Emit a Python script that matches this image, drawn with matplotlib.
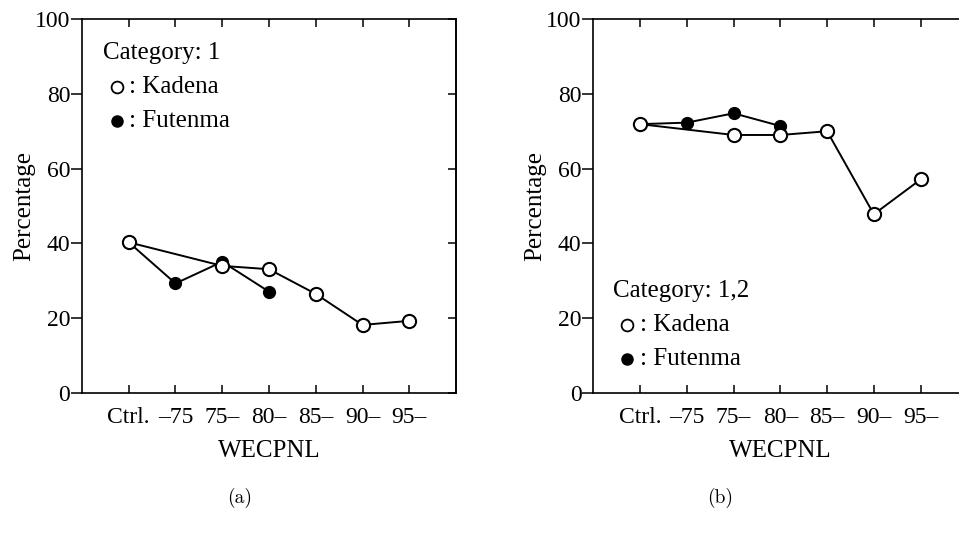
import matplotlib
matplotlib.use('Agg')
import matplotlib.pyplot as plt

plt.rcParams['font.family'] = ['Liberation Serif', 'DejaVu Serif']

categories = ['Ctrl.', '\u201375', '75\u2013', '80\u2013', '85\u2013', '90\u2013', '95\u2013']
xpos = [1, 2, 3, 4, 5, 6, 7]

# category 1
kadena_x_a = [1, 3, 4, 5, 6, 7]
kadena_a = [40.3, 34.0, 33.1, 26.5, 18.2, 19.3]
futenma_x_a = [1, 2, 3, 4]
futenma_a = [40.3, 29.3, 35.1, 27.1]

# category 1,2
kadena_x_b = [1, 3, 4, 5, 6, 7]
kadena_b = [71.9, 69.0, 69.0, 70.0, 47.8, 57.1]
futenma_x_b = [1, 2, 3, 4]
futenma_b = [71.9, 72.3, 74.8, 71.4]

yticks = [0, 20, 40, 60, 80, 100]
FS = 17      # tick labels
FS_T = 18    # axis labels and legend text

fig = plt.figure(figsize=(9.59, 5.54), dpi=100)
ax_a = fig.add_axes([0.0855, 0.2906, 0.39, 0.675])
ax_b = fig.add_axes([0.6187, 0.2906, 0.39, 0.675])


def draw_panel(ax, kx, ky, fx, fy, cat_text, leg):
    ax.plot(fx, fy, '-o', color='black', lw=1.4, ms=8.5, mfc='black',
            mec='black', zorder=3)
    ax.plot(kx, ky, '-o', color='black', lw=1.4, ms=9.5, mfc='white',
            mec='black', mew=1.5, zorder=4)
    ax.set_xlim(0, 8)
    ax.set_ylim(0, 100)
    ax.set_xticks(xpos)
    ax.set_xticklabels(categories, fontsize=FS)
    ax.set_yticks(yticks)
    ax.tick_params(axis='y', labelsize=FS, direction='out', length=8,
                   width=1.1, pad=0.5)
    ax.tick_params(axis='x', direction='in', length=6, width=1.1, top=True,
                   pad=10)
    # inward ticks on the right spine
    ax2 = ax.secondary_yaxis('right')
    ax2.set_yticks(yticks)
    ax2.tick_params(direction='in', length=6, width=1.1, labelright=False)
    ax2.spines['right'].set_linewidth(1.2)
    for s in ax.spines.values():
        s.set_linewidth(1.2)
    ax.set_ylabel('Percentage', fontsize=FS_T, labelpad=0)
    ax.set_xlabel('WECPNL', fontsize=FS_T, labelpad=9)

    # hand-drawn key
    lx, ly, mx, tx, dy = leg
    ax.text(lx, ly, cat_text, transform=ax.transAxes, fontsize=FS_T,
            va='center', ha='left')
    ax.plot([mx], [ly - dy], 'o', transform=ax.transAxes, ms=8.5, mfc='white',
            mec='black', mew=1.3, clip_on=False)
    ax.text(tx, ly - dy, ': Kadena', transform=ax.transAxes, fontsize=FS_T,
            va='center', ha='left')
    ax.plot([mx], [ly - 2 * dy], 'o', transform=ax.transAxes, ms=8,
            mfc='black', mec='black', clip_on=False)
    ax.text(tx, ly - 2 * dy, ': Futenma', transform=ax.transAxes, fontsize=FS_T,
            va='center', ha='left')


draw_panel(ax_a, kadena_x_a, kadena_a, futenma_x_a, futenma_a, 'Category: 1',
           (0.055, 0.909, 0.093, 0.125, 0.091))
draw_panel(ax_b, kadena_x_b, kadena_b, futenma_x_b, futenma_b, 'Category: 1,2',
           (0.0535, 0.273, 0.089, 0.126, 0.091))

fig.text(0.25, 0.101, '(a)', family='cmr10', fontsize=14, ha='center', va='center')
fig.text(0.751, 0.101, '(b)', family='cmr10', fontsize=14, ha='center', va='center')

fig.savefig('out.png', dpi=100)
